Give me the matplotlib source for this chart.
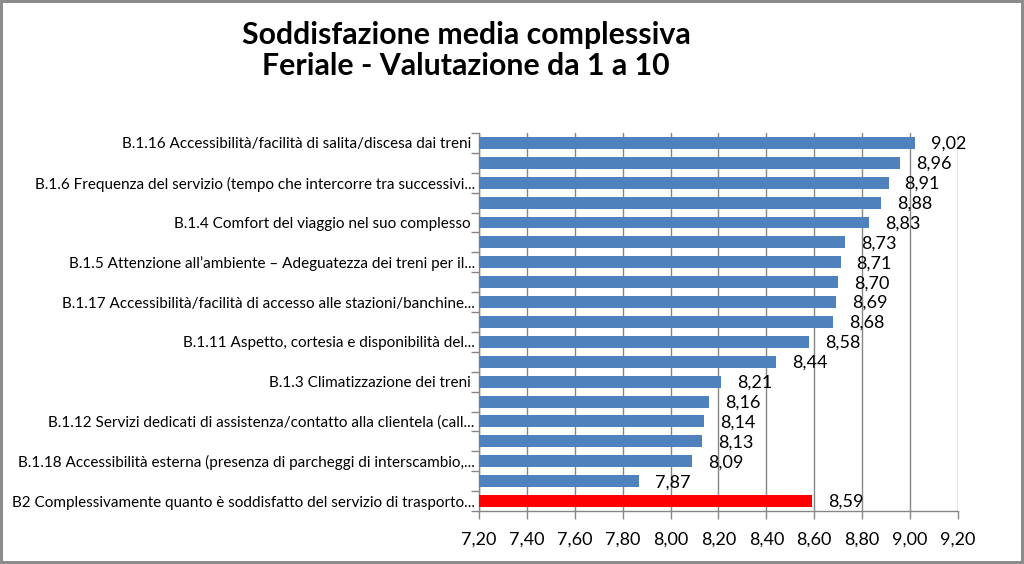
import matplotlib.pyplot as plt
from matplotlib.ticker import FixedLocator

# categories (only every other one carries a label in the original)
labels = [
    'B.1.16 Accessibilità/facilità di salita/discesa dai treni ',
    '',
    'B.1.6 Frequenza del servizio (tempo che intercorre tra successivi...',
    '',
    'B.1.4 Comfort del viaggio nel suo complesso ',
    '',
    'B.1.5 Attenzione all\u2019ambiente \u2013 Adeguatezza dei treni per il...',
    '',
    'B.1.17 Accessibilità/facilità di accesso alle stazioni/banchine...',
    '',
    'B.1.11 Aspetto, cortesia e disponibilità del...',
    '',
    'B.1.3 Climatizzazione dei treni ',
    '',
    'B.1.12 Servizi dedicati di assistenza/contatto alla clientela (call...',
    '',
    'B.1.18 Accessibilità esterna (presenza di parcheggi di interscambio,...',
    '',
    'B2 Complessivamente quanto è soddisfatto del servizio di trasporto...',
]
values = [9.02, 8.96, 8.91, 8.88, 8.83, 8.73, 8.71, 8.70, 8.69, 8.68,
          8.58, 8.44, 8.21, 8.16, 8.14, 8.13, 8.09, 7.87, 8.59]
highlight = [False] * 18 + [True]
x_ticks = [7.2, 7.4, 7.6, 7.8, 8.0, 8.2, 8.4, 8.6, 8.8, 9.0, 9.2]
x_tick_labels = ['7,20', '7,40', '7,60', '7,80', '8,00', '8,20',
                 '8,40', '8,60', '8,80', '9,00', '9,20']

plt.rcParams['font.family'] = ['Lato', 'DejaVu Sans']

blue = '#4F81BD'
red = '#FF0000'
grid_col = '#868686'

fig = plt.figure(figsize=(10.24, 5.64), dpi=100, linewidth=3, edgecolor='#8C8C8C')
ax = fig.add_axes([0.4678, 0.094, 0.9355 - 0.4678, 0.7642 - 0.094])

pos = list(range(len(values)))
colors = [red if h else blue for h in highlight]
ax.barh(pos, [v - x_ticks[0] for v in values], left=x_ticks[0], height=0.6,
        color=colors, zorder=3)

for p, v in zip(pos, values):
    ax.annotate(f'{v:.2f}'.replace('.', ','), xy=(v, p), xytext=(16, -1),
                textcoords='offset pixels', va='center', ha='left',
                fontsize=13, color='black', zorder=4)

ax.set_xlim(x_ticks[0], x_ticks[-1])
ax.set_ylim(len(values) - 0.5, -0.5)

ax.set_xticks(x_ticks)
ax.set_xticklabels(x_tick_labels, fontsize=13)
ax.tick_params(axis='x', length=6, width=1, color=grid_col, pad=9)

ax.set_yticks(pos)
ax.set_yticklabels(labels, fontsize=11)
ax.yaxis.set_minor_locator(FixedLocator([p - 0.5 for p in pos] + [len(pos) - 0.5]))
ax.tick_params(axis='y', which='major', length=0, pad=3)
ax.tick_params(axis='y', which='minor', length=6, width=1, color=grid_col)

ax.grid(axis='x', color=grid_col, linewidth=1, zorder=0)
ax.set_axisbelow(True)
for s in ['top', 'right']:
    ax.spines[s].set_visible(False)
for s in ['left', 'bottom']:
    ax.spines[s].set_color(grid_col)
    ax.spines[s].set_linewidth(1)

fig.text(0.455, 0.962, 'Soddisfazione media complessiva\nFeriale - Valutazione da 1 a 10',
         ha='center', va='top', fontsize=21.8, fontweight='bold', linespacing=1.1)

fig.savefig('out.png', dpi=100)
